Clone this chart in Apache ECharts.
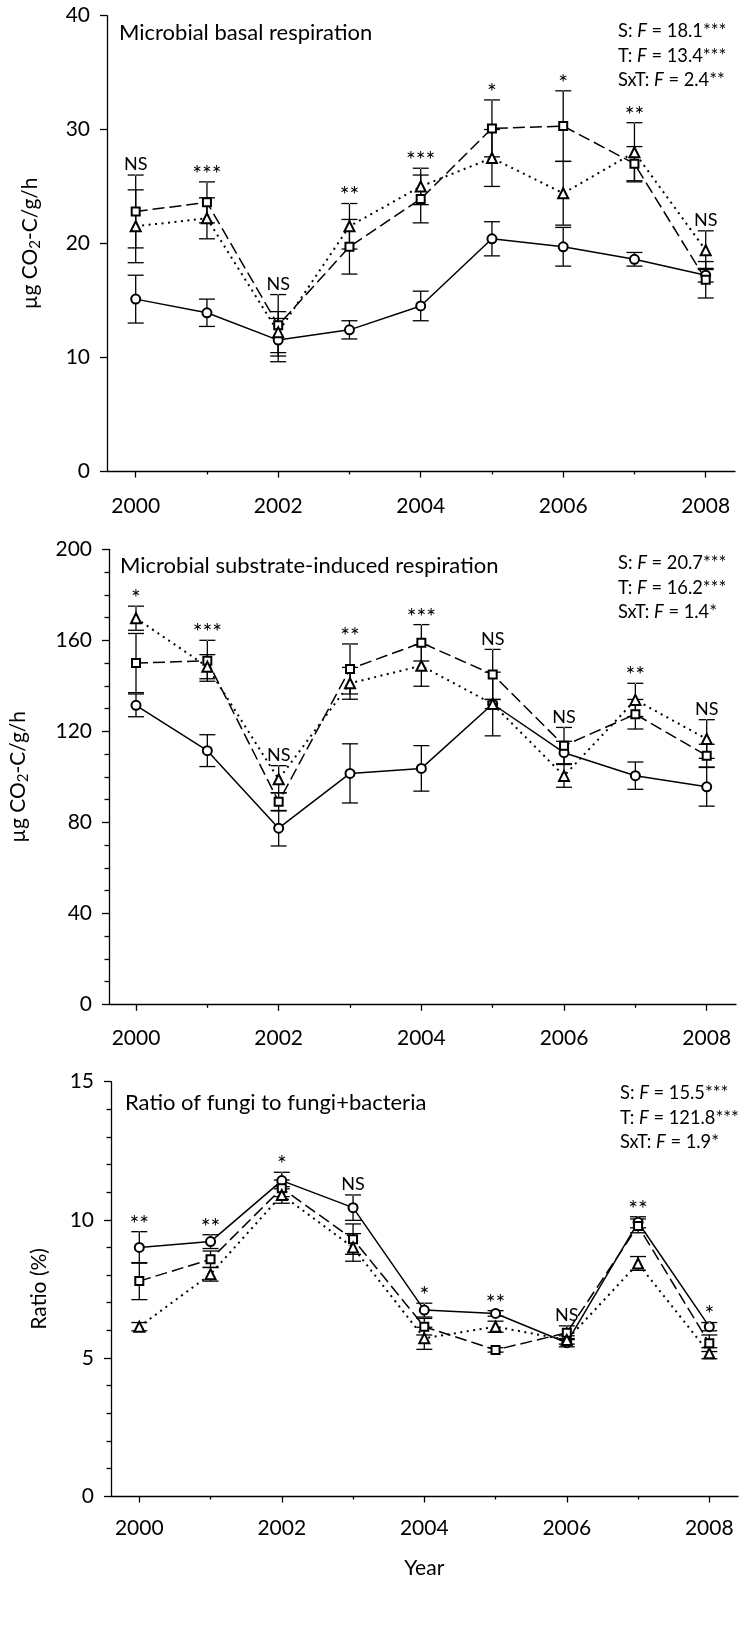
<!DOCTYPE html>
<html>
<head>
<meta charset="utf-8">
<script src="https://cdn.jsdelivr.net/npm/echarts@6.0.0/dist/echarts.min.js"></script>
<style>
  html, body { margin: 0; padding: 0; background: #fff; }
  #chart { width: 739px; height: 1634px; }
</style>
</head>
<body>
<div id="chart"></div>
<script>
var years = [2000, 2001, 2002, 2003, 2004, 2005, 2006, 2007, 2008];

// microbial basal respiration (µg CO2-C/g/h)
var basalCircle    = [15.1, 13.9, 11.5, 12.4, 14.5, 20.4, 19.7, 18.6, 17.2];
var basalCircleErr = [2.1, 1.2, 1.9, 0.8, 1.3, 1.5, 1.7, 0.6, 0.6];
var basalSquare    = [22.8, 23.6, 12.8, 19.7, 23.9, 30.1, 30.3, 27.0, 16.8];
var basalSquareErr = [3.2, 1.8, 2.7, 2.4, 2.1, 2.5, 3.1, 1.5, 1.6];
var basalTri       = [21.5, 22.2, 12.2, 21.5, 25.0, 27.5, 24.4, 28.0, 19.4];
var basalTriErr    = [3.2, 1.8, 1.8, 2.0, 1.6, 2.5, 2.8, 2.6, 1.7];
var basalSig       = ['NS', '***', 'NS', '**', '***', '*', '*', '**', 'NS'];
var basalStats     = [['S', '18.1***'], ['T', '13.4***'], ['SxT', '2.4**']];

// microbial substrate-induced respiration
var sirCircle    = [131.4, 111.5, 77.4, 101.5, 103.7, 132.0, 110.6, 100.5, 95.6];
var sirCircleErr = [5, 7, 7.8, 13, 10, 14, 5, 6, 8.5];
var sirSquare    = [150.0, 151.0, 89.0, 147.4, 158.9, 145.0, 113.7, 127.5, 109.3];
var sirSquareErr = [13, 9, 4, 11, 8, 11, 8, 6.5, 5];
var sirTri       = [169.7, 148.4, 98.9, 141.1, 148.8, 132.0, 100.4, 133.8, 116.6];
var sirTriErr    = [5.3, 5.3, 6, 7, 9, 2, 5, 7.3, 8.5];
var sirSig       = ['*', '***', 'NS', '**', '***', 'NS', 'NS', '**', 'NS'];
var sirStats     = [['S', '20.7***'], ['T', '16.2***'], ['SxT', '1.4*']];

// ratio of fungi to fungi+bacteria (%)
var ratioCircle    = [9.0, 9.21, 11.42, 10.44, 6.73, 6.61, 5.55, 9.91, 6.13];
var ratioCircleErr = [0.57, 0.25, 0.3, 0.46, 0.25, 0.1, 0.15, 0.2, 0.15];
var ratioSquare    = [7.78, 8.57, 11.14, 9.3, 6.13, 5.29, 5.91, 9.78, 5.53];
var ratioSquareErr = [0.67, 0.3, 0.3, 0.55, 0.3, 0.08, 0.25, 0.25, 0.3];
var ratioTri       = [6.13, 8.03, 10.9, 9.0, 5.71, 6.13, 5.65, 8.42, 5.17];
var ratioTriErr    = [0.15, 0.25, 0.3, 0.5, 0.4, 0.2, 0.15, 0.25, 0.2];
var ratioSig       = ['**', '**', '*', 'NS', '*', '**', 'NS', '**', '*'];
var ratioStats     = [['S', '15.5***'], ['T', '121.8***'], ['SxT', '1.9*']];

var FONT = 'Lato';

var panels = [
  { title: 'Microbial basal respiration', stats: basalStats, sig: basalSig,
    yName: '{a|µg CO}{s|2}{a|-C/g/h}', yMax: 40, yStep: 10, yMinor: 0,
    c: basalCircle, ce: basalCircleErr, s: basalSquare, se: basalSquareErr, t: basalTri, te: basalTriErr },
  { title: 'Microbial substrate-induced respiration', stats: sirStats, sig: sirSig,
    yName: '{a|µg CO}{s|2}{a|-C/g/h}', yMax: 200, yStep: 40, yMinor: 4,
    c: sirCircle, ce: sirCircleErr, s: sirSquare, se: sirSquareErr, t: sirTri, te: sirTriErr },
  { title: 'Ratio of fungi to fungi+bacteria', stats: ratioStats, sig: ratioSig,
    yName: '{a|Ratio (%)}', yMax: 15, yStep: 5, yMinor: 5,
    c: ratioCircle, ce: ratioCircleErr, s: ratioSquare, se: ratioSquareErr, t: ratioTri, te: ratioTriErr }
];

// layout in px
var layout = [
  { top: 15.7, height: 455.3, axisLeft: 107, axisRight: 4, plotLeft: 135.7, plotRight: 33.3,
    nameGap: 64, labelGap: 24.5, titleX: 119, titleY: 33, statX: 618, statY: 31 },
  { top: 549.3, height: 455, axisLeft: 108, axisRight: 3, plotLeft: 136, plotRight: 32.3,
    nameGap: 78, labelGap: 23.5, titleX: 120, titleY: 566, statX: 618, statY: 563 },
  { top: 1081.7, height: 414.3, axisLeft: 111, axisRight: 1, plotLeft: 139.3, plotRight: 29.7,
    nameGap: 61, labelGap: 21.5, titleX: 125, titleY: 1103, statX: 620, statY: 1093 }
];

var grid = [], xAxis = [], yAxis = [], series = [], title = [];

function errorBars(gi, vals, errs) {
  return {
    type: 'custom', xAxisIndex: gi * 2 + 1, yAxisIndex: gi * 2 + 1, z: 1,
    silent: true,
    data: years.map(function (yr, i) { return [yr, vals[i], errs[i]]; }),
    encode: { x: 0, y: 1 },
    renderItem: function (params, api) {
      var x = api.value(0), v = api.value(1), e = api.value(2);
      var hi = api.coord([x, v + e]);
      var lo = api.coord([x, v - e]);
      var w = 8;
      var st = { stroke: '#000', lineWidth: 1.3 };
      return {
        type: 'group',
        children: [
          { type: 'line', shape: { x1: hi[0], y1: hi[1], x2: lo[0], y2: lo[1] }, style: st },
          { type: 'line', shape: { x1: hi[0] - w, y1: hi[1], x2: hi[0] + w, y2: hi[1] }, style: st },
          { type: 'line', shape: { x1: lo[0] - w, y1: lo[1], x2: lo[0] + w, y2: lo[1] }, style: st }
        ]
      };
    }
  };
}

function lineSeries(gi, vals, symbol, size, dash, width) {
  return {
    type: 'line', xAxisIndex: gi * 2 + 1, yAxisIndex: gi * 2 + 1, z: 3,
    data: years.map(function (yr, i) { return [yr, vals[i]]; }),
    symbol: symbol, symbolSize: size, showAllSymbol: true,
    lineStyle: { color: '#000', width: width, type: dash },
    itemStyle: { color: '#000', borderColor: '#000', borderWidth: 1.2 },
    emphasis: { disabled: true },
    silent: true
  };
}

panels.forEach(function (p, gi) {
  var L = layout[gi];
  var axisTxt = { fontFamily: FONT, fontSize: 21, color: '#000' };

  // wide grid: visible y axis and the full-length x axis line
  grid.push({ left: L.axisLeft, right: L.axisRight, top: L.top, height: L.height });
  // plot grid: where the years sit
  grid.push({ left: L.plotLeft, right: L.plotRight, top: L.top, height: L.height });

  xAxis.push({
    gridIndex: gi * 2, type: 'value', min: 0, max: 1,
    axisLine: { show: true, lineStyle: { color: '#000', width: 1.3 } },
    axisTick: { show: false }, axisLabel: { show: false }, splitLine: { show: false }
  });
  xAxis.push({
    gridIndex: gi * 2 + 1, type: 'value', min: 2000, max: 2008, interval: 2,
    axisLine: { show: false },
    axisTick: { show: true, length: 6.5, lineStyle: { color: '#000', width: 1.3 } },
    minorTick: { show: true, splitNumber: 2, length: 3.5, lineStyle: { color: '#000', width: 1.3 } },
    axisLabel: Object.assign({ margin: L.labelGap, formatter: function (v) { return String(v); } }, axisTxt),
    splitLine: { show: false },
    name: gi === 2 ? 'Year' : '', nameLocation: 'middle', nameGap: 62,
    nameTextStyle: axisTxt
  });

  yAxis.push({
    gridIndex: gi * 2, type: 'value', min: 0, max: p.yMax, interval: p.yStep,
    axisLine: { show: true, lineStyle: { color: '#000', width: 1.3 } },
    axisTick: { show: true, length: 7, lineStyle: { color: '#000', width: 1.3 } },
    minorTick: { show: p.yMinor > 0, splitNumber: p.yMinor || 5, length: 4.5, lineStyle: { color: '#000', width: 1.3 } },
    axisLabel: Object.assign({ margin: 17 }, axisTxt),
    splitLine: { show: false }, minorSplitLine: { show: false },
    name: p.yName, nameLocation: 'middle', nameRotate: 90, nameGap: L.nameGap,
    nameTextStyle: {
      rich: {
        a: { fontFamily: FONT, fontSize: 21, color: '#000' },
        s: { fontFamily: FONT, fontSize: 15, color: '#000', padding: [10, 0, 0, 0] }
      }
    }
  });
  yAxis.push({ gridIndex: gi * 2 + 1, type: 'value', min: 0, max: p.yMax, show: false });

  series.push(errorBars(gi, p.c, p.ce));
  series.push(errorBars(gi, p.s, p.se));
  series.push(errorBars(gi, p.t, p.te));
  series.push(lineSeries(gi, p.c, 'emptyCircle', 9, 'solid', 1.5));
  series.push(lineSeries(gi, p.s, 'emptyRect', 8, [12, 5], 1.5));
  series.push(lineSeries(gi, p.t, 'emptyTriangle', 10, [2, 4.5], 2));

  // significance marks just above the highest error bar of each year
  series.push({
    type: 'scatter', xAxisIndex: gi * 2 + 1, yAxisIndex: gi * 2 + 1, z: 4, silent: true,
    symbol: 'circle', symbolSize: 1, itemStyle: { color: '#fff', opacity: 1 },
    data: years.map(function (yr, i) {
      return [yr, Math.max(p.c[i] + p.ce[i], p.s[i] + p.se[i], p.t[i] + p.te[i])];
    }),
    label: {
      show: true, position: 'top', distance: 1,
      formatter: function (d) {
        var s = p.sig[d.dataIndex];
        return s === 'NS' ? '{m|NS}' : '{k|' + s + '}';
      },
      rich: {
        m: { fontFamily: FONT, fontSize: 18, color: '#000', lineHeight: 18 },
        k: { fontFamily: FONT, fontSize: 23, color: '#000', lineHeight: 18, padding: [6, 0, 0, 0] }
      }
    }
  });

  title.push({
    text: p.title, left: L.titleX, top: L.titleY - 13, padding: 0,
    textStyle: { fontFamily: FONT, fontSize: 22, fontWeight: 'normal', color: '#000', lineHeight: 26 }
  });
  title.push({
    text: p.stats.map(function (s) {
      return '{a|' + s[0] + ': }{i|F}{a| = ' + s[1] + '}';
    }).join('\n'),
    left: L.statX, top: L.statY - 12, padding: 0,
    textStyle: {
      rich: {
        a: { fontFamily: FONT, fontSize: 18.3, fontWeight: 'normal', color: '#000', lineHeight: 24.5 },
        i: { fontFamily: FONT, fontSize: 18.3, fontWeight: 'normal', fontStyle: 'italic', color: '#000', lineHeight: 24.5 }
      }
    }
  });
});

var chart = echarts.init(document.getElementById('chart'), null, { renderer: 'canvas' });
chart.setOption({
  backgroundColor: '#fff',
  animation: false,
  title: title,
  grid: grid,
  xAxis: xAxis,
  yAxis: yAxis,
  series: series
});
</script>
</body>
</html>
